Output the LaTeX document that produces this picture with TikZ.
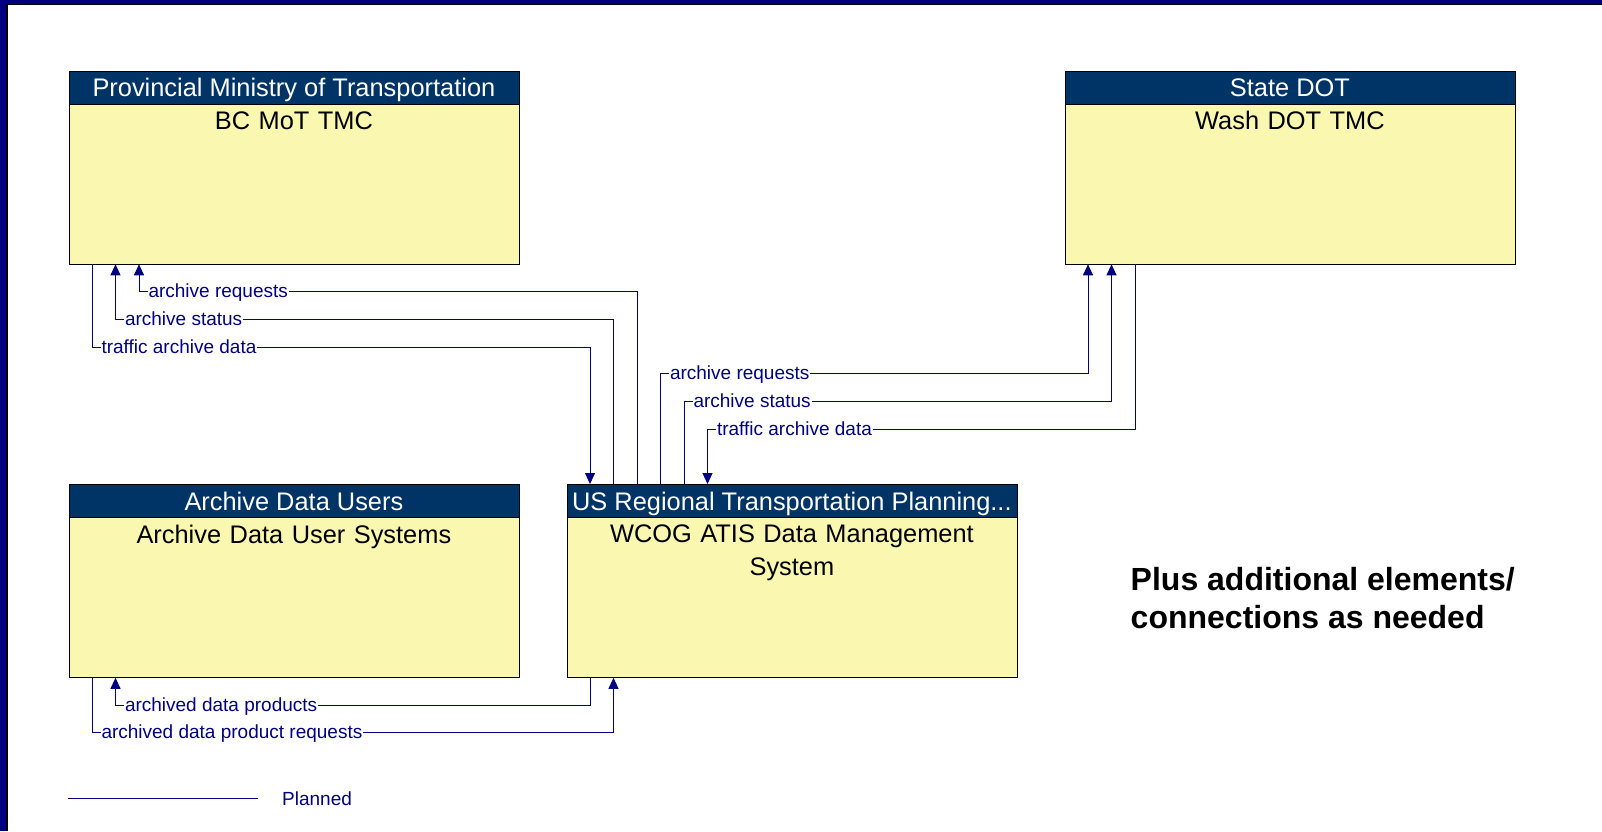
\documentclass[tikz,border=0pt]{standalone}
\usepackage{fontspec}
\setmainfont{Liberation Sans}
\usetikzlibrary{positioning,arrows.meta}
\definecolor{framenavy}{RGB}{0,0,128}
\definecolor{headnavy}{RGB}{0,51,102}
\definecolor{elemyellow}{RGB}{250,248,176}
\definecolor{flownavy}{RGB}{0,0,128}
\begin{document}
\begin{tikzpicture}[x=1pt,y=-1pt,>={Triangle[width=10pt,length=11pt]},
	elem/.style={draw=black,fill=elemyellow,line width=0.8pt,minimum width=450pt,minimum height=193pt,inner sep=0pt,anchor=north west},
	elemhead/.style={draw=black,fill=headnavy,text=white,line width=0.8pt,minimum width=450pt,minimum height=33pt,inner sep=0pt,text height=18.2pt,text depth=0pt,anchor=north,font=\fontsize{25.4}{30}\selectfont},
	elemname/.style={text width=440pt,align=center,inner sep=0pt,font=\fontsize{25.4}{33}\selectfont},
	flow/.style={draw=flownavy,line width=1pt},
	flowlabel/.style={anchor=west,xshift=8pt,yshift=-2pt,fill=white,text=flownavy,inner xsep=1pt,inner ysep=0pt,text height=13pt,text depth=5pt,font=\fontsize{19}{22}\selectfont}]
	\useasboundingbox (0,0) rectangle (1602,831);
	\fill[framenavy] (0,0) rectangle (1602,3.5);
	\fill[framenavy] (0,0) rectangle (6,831);
	\draw[black,line width=1.5pt] (6.75,831) -- (6.75,4.25) -- (1602,4.25);

	\node[elem] (bcmot) at (68.5,70.5) {};
	\node[elemhead] (bcmothead) at (bcmot.north) {Provincial Ministry of Transportation};
	\node[elemname,below=7pt of bcmothead] (bcmotname) {BC MoT TMC};

	\node[elem] (washdot) at (1064.5,70.5) {};
	\node[elemhead] (washdothead) at (washdot.north) {State DOT};
	\node[elemname,below=7pt of washdothead] (washdotname) {Wash DOT TMC};

	\node[elem] (adusers) at (68.5,484) {};
	\node[elemhead] (adusershead) at (adusers.north) {Archive Data Users};
	\node[elemname,below=7pt of adusershead] (adusersname) {Archive Data User Systems};

	\node[elem] (wcog) at (566.5,484) {};
	\node[elemhead] (wcoghead) at (wcog.north) {US Regional Transportation Planning...};
	\node[elemname,below=7pt of wcoghead] (wcogname) {WCOG ATIS Data Management\\System};

	\draw[flow,->] ([xshift=23.5pt]bcmot.south west) -- ++(0,82.8) node[flowlabel] {traffic archive data} -| ([xshift=23.5pt]wcog.north west);
	\draw[flow,<-] ([xshift=47pt]bcmot.south west) -- ++(0,55.2) node[flowlabel] {archive status} -| ([xshift=47pt]wcog.north west);
	\draw[flow,<-] ([xshift=70.5pt]bcmot.south west) -- ++(0,27.6) node[flowlabel] {archive requests} -| ([xshift=70.5pt]wcog.north west);

	\draw[flow,->] ([xshift=94pt]wcog.north west) -- ++(0,-110.1) node[flowlabel] {archive requests} -| ([xshift=23.5pt]washdot.south west);
	\draw[flow,->] ([xshift=117.5pt]wcog.north west) -- ++(0,-82.6) node[flowlabel] {archive status} -| ([xshift=47pt]washdot.south west);
	\draw[flow,<-] ([xshift=141pt]wcog.north west) -- ++(0,-55) node[flowlabel] {traffic archive data} -| ([xshift=70.5pt]washdot.south west);

	\draw[flow,<-] ([xshift=47pt]adusers.south west) -- ++(0,27.3) node[flowlabel] {archived data products} -| ([xshift=23.5pt]wcog.south west);
	\draw[flow,->] ([xshift=23.5pt]adusers.south west) -- ++(0,54.9) node[flowlabel] {archived data product requests} -| ([xshift=47pt]wcog.south west);

	\node[anchor=north west,align=left,inner sep=0pt,font=\bfseries\fontsize{32}{38}\selectfont] (morenote) at (1130.5,567.5) {Plus additional elements/\\connections as needed};

	\coordinate (legendstart) at (68.4,798.8);
	\node[anchor=west,inner sep=0pt,text=flownavy,font=\fontsize{19}{22}\selectfont] (planned) at (282,798.8) {Planned};
	\draw[flow] (legendstart) -- ([xshift=-23.6pt]planned.west);
\end{tikzpicture}
\end{document}
